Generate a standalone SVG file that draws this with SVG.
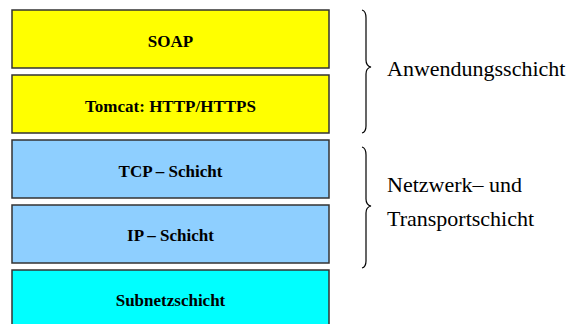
<svg xmlns="http://www.w3.org/2000/svg" width="575" height="324" viewBox="0 0 575 324">
  <style>
    .layer { stroke: #333; stroke-width: 1.5; }
    .app { fill: #ffff00; }
    .net { fill: #8ecfff; }
    .sub { fill: #00ffff; }
    .lbl { font-family: "Liberation Serif", "Times New Roman", serif; font-weight: bold; font-size: 17px; fill: #000; text-anchor: middle; }
    .brace { fill: none; stroke: #000; stroke-width: 1.2; }
    .side { font-family: "Liberation Serif", "Times New Roman", serif; font-size: 22px; fill: #000; }
  </style>
  <rect width="575" height="324" fill="#fff"/>

  <!-- protocol stack layers -->
  <g id="soap">
    <rect class="layer app" x="12" y="10" width="317" height="58"/>
    <text class="lbl" x="170.5" y="46.5">SOAP</text>
  </g>
  <g id="tomcat">
    <rect class="layer app" x="12" y="75" width="317" height="58"/>
    <text class="lbl" x="170.5" y="111.5">Tomcat: HTTP/HTTPS</text>
  </g>
  <g id="tcp">
    <rect class="layer net" x="12" y="140" width="317" height="58"/>
    <text class="lbl" x="170.5" y="176.5">TCP – Schicht</text>
  </g>
  <g id="ip">
    <rect class="layer net" x="12" y="205" width="317" height="58"/>
    <text class="lbl" x="170.5" y="240.5">IP – Schicht</text>
  </g>
  <g id="subnetz">
    <rect class="layer sub" x="12" y="270" width="317" height="60"/>
    <text class="lbl" x="170.5" y="305.5">Subnetzschicht</text>
  </g>

  <!-- grouping braces -->
  <g id="connectors">
    <path class="brace" d="M362,10 Q366,11 366,18 L366,60 Q366,66 371,67 Q366,68 366,74 L366,126 Q366,132 362,133"/>
    <path class="brace" d="M362,147 Q366,148 366,155 L366,199 Q366,205 371,206 Q366,207 366,213 L366,261 Q366,267 362,268"/>
  </g>

  <g id="app-label">
    <text class="side" x="387" y="76">Anwendungsschicht</text>
  </g>
  <g id="net-label">
    <text class="side" x="387" y="192">Netzwerk– und</text>
    <text class="side" x="387" y="226">Transportschicht</text>
  </g>
</svg>
